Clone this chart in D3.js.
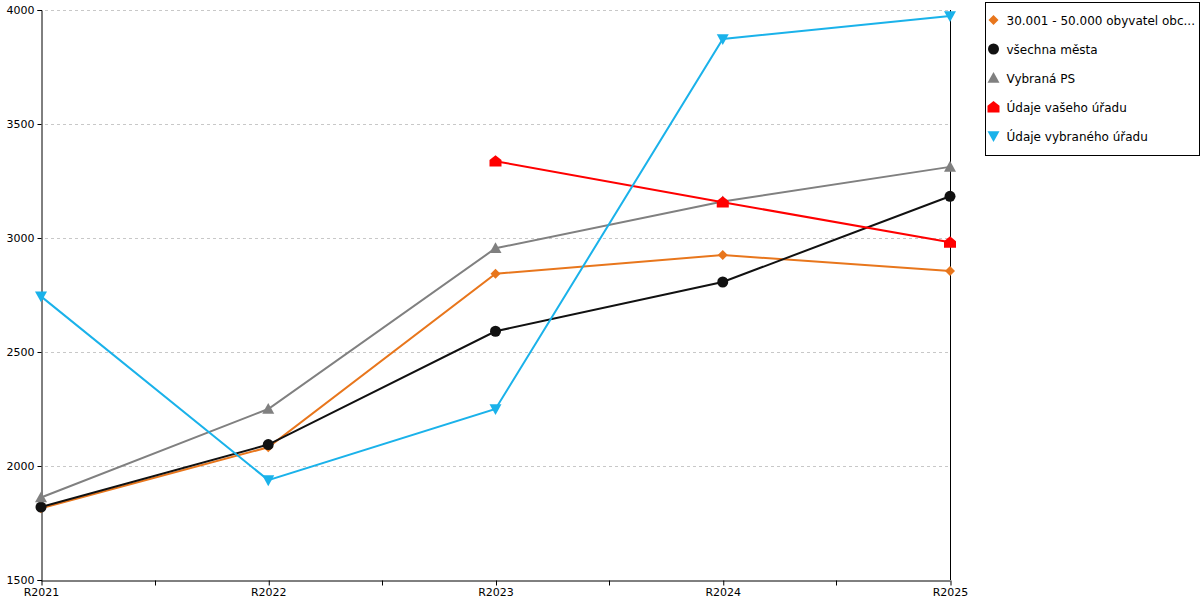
<!DOCTYPE html>
<html>
<head>
<meta charset="utf-8">
<script src="https://cdn.jsdelivr.net/npm/d3@7"></script>
<style>
  body { margin: 0; background: #fff; }
  svg { display: block; font-family: "DejaVu Sans", Verdana, sans-serif; }
</style>
</head>
<body>
<div id="chart"></div>
<script>
// Chart data
const years = ["R2021", "R2022", "R2023", "R2024", "R2025"];
const seriesNames = ["30.001 - 50.000 obyvatel obc...", "všechna města", "Vybraná PS", "Údaje vašeho úřadu", "Údaje vybraného úřadu"];
const valuesObce = [1815, 2082, 2843, 2925, 2855];
const valuesMesta = [1820, 2094, 2591, 2807, 3183];
const valuesPS = [1862, 2250, 2955, 3160, 3312];
const valuesVasUrad = [null, null, 3337, 3157, 2981];
const valuesVybranyUrad = [2744, 1938, 2250, 3873, 3974];
const yTicks = [1500, 2000, 2500, 3000, 3500, 4000];

const colors = ["#e8761c", "#111111", "#808080", "#ff0000", "#1ab2ea"];
const markers = ["diamond", "circle", "triangle", "house", "triangleDown"];
const allValues = [valuesObce, valuesMesta, valuesPS, valuesVasUrad, valuesVybranyUrad];

const width = 1200, height = 600;
const margin = { left: 41, right: 250, top: 10, bottom: 20 };

const svg = d3.select("#chart").append("svg")
    .attr("width", width)
    .attr("height", height);

const x = d3.scalePoint()
    .domain(years)
    .range([margin.left, width - margin.right]);

const y = d3.scaleLinear()
    .domain([1500, 4000])
    .range([height - margin.bottom, margin.top]);

// grid
svg.append("g")
    .selectAll("line")
    .data(yTicks.slice(1))
    .join("line")
    .attr("x1", margin.left + 4)
    .attr("x2", width - margin.right)
    .attr("y1", d => Math.round(y(d)) + 0.5)
    .attr("y2", d => Math.round(y(d)) + 0.5)
    .attr("stroke", "#c8c8c8")
    .attr("stroke-dasharray", "3,3");

// y axis
const yAxis = svg.append("g")
    .attr("transform", `translate(${margin.left + 0.5},0)`)
    .call(d3.axisLeft(y).tickValues(yTicks).tickSize(4).tickPadding(3).tickFormat(d3.format("d")));
yAxis.select(".domain").attr("stroke", "#000");
yAxis.selectAll("text").attr("font-size", 11).attr("fill", "#000").attr("font-family", "DejaVu Sans, Verdana, sans-serif");

// x axis with minor ticks at midpoints
const step = x.step();
const xAxis = svg.append("g")
    .attr("transform", `translate(0,${Math.round(y(1500)) + 0.5})`)
    .call(d3.axisBottom(x).tickSize(5).tickPadding(3).tickSizeOuter(0));
xAxis.select(".domain").attr("stroke", "#000");
xAxis.selectAll("text").attr("font-size", 11).attr("fill", "#000").attr("font-family", "DejaVu Sans, Verdana, sans-serif");
xAxis.selectAll(".tick line").attr("transform", "translate(0.5,0)");
xAxis.append("g")
    .selectAll("line")
    .data(years.slice(1))
    .join("line")
    .attr("x1", d => Math.round(x(d) - step / 2) + 0.5)
    .attr("x2", d => Math.round(x(d) - step / 2) + 0.5)
    .attr("y1", 0)
    .attr("y2", 5)
    .attr("stroke", "#000");

// right vertical line
svg.append("line")
    .attr("x1", Math.round(x(years[years.length - 1])) + 0.5)
    .attr("x2", Math.round(x(years[years.length - 1])) + 0.5)
    .attr("y1", margin.top)
    .attr("y2", y(1500))
    .attr("stroke", "#000");

function markerPath(type, s) {
    switch (type) {
        case "diamond":
            return `M0,${-s}L${s},0L0,${s}L${-s},0Z`;
        case "triangle":
            return `M0,${-s}L${s},${s * 0.8}L${-s},${s * 0.8}Z`;
        case "triangleDown":
            return `M0,${s}L${s},${-s * 0.8}L${-s},${-s * 0.8}Z`;
        case "house":
            return `M0,${-s}L${s},${-s * 0.2}L${s},${s * 0.9}L${-s},${s * 0.9}L${-s},${-s * 0.2}Z`;
        default:
            return null;
    }
}

function drawMarker(g, type, color) {
    if (type === "circle") {
        g.append("circle").attr("r", 5.5).attr("fill", color);
    } else {
        const s = type === "diamond" ? 5 : 6;
        g.append("path").attr("d", markerPath(type, s)).attr("fill", color);
    }
}

const line = d3.line()
    .defined(d => d.v != null)
    .x(d => x(d.year))
    .y(d => y(d.v));

allValues.forEach((vals, i) => {
    const pts = years.map((yr, j) => ({ year: yr, v: vals[j] }));
    const g = svg.append("g");
    g.append("path")
        .datum(pts)
        .attr("d", line)
        .attr("fill", "none")
        .attr("stroke", colors[i])
        .attr("stroke-width", 2);
    pts.filter(d => d.v != null).forEach(d => {
        const m = g.append("g").attr("transform", `translate(${x(d.year)},${y(d.v)})`);
        drawMarker(m, markers[i], colors[i]);
    });
});

// legend
const legend = svg.append("g").attr("transform", "translate(985.5,2.5)");
legend.append("rect")
    .attr("width", 214)
    .attr("height", 153)
    .attr("fill", "#fff")
    .attr("stroke", "#000");
seriesNames.forEach((name, i) => {
    const row = legend.append("g").attr("transform", `translate(8,${17.5 + i * 29})`);
    drawMarker(row, markers[i], colors[i]);
    row.append("text")
        .attr("x", 13)
        .attr("y", 4.5)
        .attr("font-size", 12)
        .attr("fill", "#000")
        .text(name);
});
</script>
</body>
</html>
